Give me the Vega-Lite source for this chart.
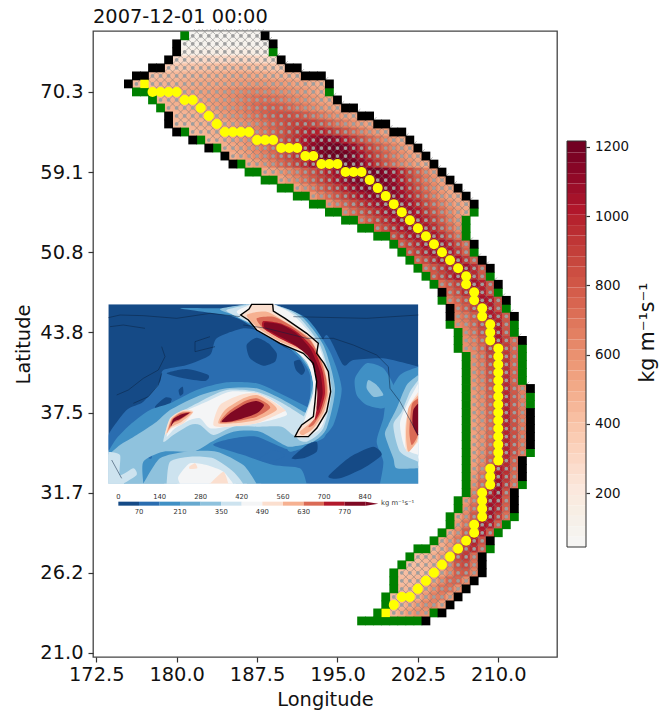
{"$schema":"https://vega.github.io/schema/vega-lite/v6.json","width":464,"height":626,"autosize":{"type":"none"},"padding":{"left":93,"top":31,"right":113,"bottom":53},"background":"white",
"title":{"text":"2007-12-01 00:00","anchor":"start","frame":"group","fontSize":19.4,"fontWeight":"normal","offset":0,"font":"DejaVu Sans","color":"#111"},
"config":{"view":{"stroke":"#444","strokeWidth":1.3},"axis":{"grid":false,"labelFont":"DejaVu Sans","titleFont":"DejaVu Sans","labelColor":"#111","titleColor":"#111","titleFontWeight":"normal","tickColor":"#333","tickWidth":1.2,"domain":false},"text":{"font":"DejaVu Sans"}},
"datasets":{
"cells":[
{"r":77,"c":[12,13,14,15,16,17,18,19,20],"v":[60,60,60,60,65,65,65,65,65]},
{"r":76,"c":[11,12,13,14,15,16,17,18,19,20,21],"v":[75,75,75,80,80,85,85,85,85,80,80]},
{"r":75,"c":[11,12,13,14,15,16,17,18,19,20,21],"v":[110,115,120,125,130,135,140,140,135,130,120]},
{"r":74,"c":[10,11,12,13,14,15,16,17,18,19,20,21,22],"v":[260,260,270,270,280,280,280,290,290,290,280,270,260]},
{"r":73,"c":[9,10,11,12,13,14,15,16,17,18,19,20,21,22,23],"v":[350,360,370,380,390,400,410,420,430,430,420,410,400,390,380]},
{"r":72,"c":[7,8,9,10,11,12,13,14,15,16,17,18,19,20,21,22,23,24,25],"v":[400,410,420,430,440,450,460,470,480,490,500,510,510,500,490,480,470,460,450]},
{"r":71,"c":[5,6,7,8,9,10,11,12,13,14,15,16,17,18,19,20,21,22,23,24,25,26,27,28],"v":[420,430,440,450,460,470,480,490,500,510,520,530,540,550,560,570,570,560,550,540,520,500,480,460]},
{"r":70,"c":[7,8,9,10,11,12,13,14,15,16,17,18,19,20,21,22,23,24,25,26,27,28],"v":[470,480,490,500,510,520,530,540,560,580,600,620,640,650,640,630,610,590,570,550,520,490]},
{"r":69,"c":[8,9,10,11,12,13,14,15,16,17,18,19,20,21,22,23,24,25,26,27,28,29],"v":[450,460,470,480,500,520,540,560,580,610,640,670,700,710,700,680,650,620,590,560,530,500]},
{"r":68,"c":[9,10,11,12,13,14,15,16,17,18,19,20,21,22,23,24,25,26,27,28,29,30],"v":[450,460,470,490,510,530,550,580,610,640,680,720,750,770,760,730,690,650,610,570,540,510]},
{"r":67,"c":[10,11,12,13,14,15,16,17,18,19,20,21,22,23,24,25,26,27,28,29,30,31,32],"v":[440,450,470,490,510,530,560,590,620,660,700,750,790,820,830,810,770,720,670,620,580,540,510]},
{"r":66,"c":[10,11,12,13,14,15,16,17,18,19,20,21,22,23,24,25,26,27,28,29,30,31,32,33,34],"v":[420,430,440,460,480,500,520,550,580,610,650,700,750,800,850,880,890,860,810,750,690,640,590,550,520]},
{"r":65,"c":[12,13,14,15,16,17,18,19,20,21,22,23,24,25,26,27,28,29,30,31,32,33,34,35,36],"v":[430,440,460,480,500,530,560,600,640,680,730,790,850,910,960,990,980,930,860,790,720,660,600,560,520]},
{"r":64,"c":[14,15,16,17,18,19,20,21,22,23,24,25,26,27,28,29,30,31,32,33,34,35,36,37,38],"v":[440,460,490,520,550,590,630,680,740,800,870,940,1010,1070,1110,1120,1080,1000,910,820,740,670,610,560,510]},
{"r":63,"c":[16,17,18,19,20,21,22,23,24,25,26,27,28,29,30,31,32,33,34,35,36,37,38,39],"v":[470,500,530,570,620,670,730,800,870,950,1030,1100,1150,1180,1190,1150,1070,970,870,780,700,630,570,520]},
{"r":62,"c":[17,18,19,20,21,22,23,24,25,26,27,28,29,30,31,32,33,34,35,36,37,38,39,40],"v":[470,510,550,600,650,710,780,850,930,1010,1090,1150,1190,1200,1190,1130,1040,940,840,750,670,600,550,500]},
{"r":61,"c":[19,20,21,22,23,24,25,26,27,28,29,30,31,32,33,34,35,36,37,38,39,40,41],"v":[500,540,590,650,720,790,870,950,1040,1120,1170,1200,1210,1180,1110,1010,910,810,720,640,580,530,490]},
{"r":60,"c":[21,22,23,24,25,26,27,28,29,30,31,32,33,34,35,36,37,38,39,40,41,42],"v":[500,530,570,620,680,750,820,900,980,1050,1110,1150,1170,1180,1170,1130,1060,960,850,740,640,560]},
{"r":59,"c":[23,24,25,26,27,28,29,30,31,32,33,34,35,36,37,38,39,40,41,42,43],"v":[520,570,630,700,780,860,940,1020,1080,1130,1160,1170,1170,1140,1080,990,880,770,670,590,530]},
{"r":58,"c":[25,26,27,28,29,30,31,32,33,34,35,36,37,38,39,40,41,42,43,44],"v":[540,600,670,750,830,910,990,1060,1110,1140,1150,1140,1100,1030,930,820,710,620,550,510]},
{"r":57,"c":[27,28,29,30,31,32,33,34,35,36,37,38,39,40,41,42,43,44,45],"v":[570,640,720,800,880,960,1030,1080,1110,1120,1100,1050,970,870,760,660,580,520,490]},
{"r":56,"c":[29,30,31,32,33,34,35,36,37,38,39,40,41,42,43,44,45,46],"v":[590,670,750,830,910,980,1040,1080,1100,1080,1030,950,850,750,660,580,520,490]},
{"r":55,"c":[31,32,33,34,35,36,37,38,39,40,41,42,43,44,45,46],"v":[640,720,800,880,950,1020,1060,1080,1060,1000,910,810,710,620,550,500]},
{"r":54,"c":[33,34,35,36,37,38,39,40,41,42,43,44,45],"v":[700,780,860,940,1000,1050,1070,1040,970,880,770,660,570]},
{"r":53,"c":[35,36,37,38,39,40,41,42,43,44,45],"v":[760,850,930,1000,1050,1060,1020,940,830,710,600]},
{"r":52,"c":[37,38,39,40,41,42,43,44,45],"v":[820,910,990,1040,1060,1020,930,810,680]},
{"r":51,"c":[38,39,40,41,42,43,44,45,46],"v":[780,870,960,1030,1060,1040,960,840,700]},
{"r":50,"c":[39,40,41,42,43,44,45,46],"v":[800,890,970,1040,1060,1010,900,750]},
{"r":49,"c":[40,41,42,43,44,45,46,47],"v":[760,850,940,1020,1060,1030,920,770]},
{"r":48,"c":[41,42,43,44,45,46,47,48],"v":[720,800,890,980,1050,1050,950,790]},
{"r":47,"c":[42,43,44,45,46,47,48],"v":[780,860,950,1030,1050,960,800]},
{"r":46,"c":[43,44,45,46,47,48,49],"v":[710,790,880,980,1040,980,820]},
{"r":45,"c":[44,45,46,47,48,49],"v":[740,830,950,1030,990,830]},
{"r":44,"c":[44,45,46,47,48,49,50],"v":[670,740,830,950,1030,1000,830]},
{"r":43,"c":[45,46,47,48,49,50],"v":[690,770,880,1000,1010,840]},
{"r":42,"c":[45,46,47,48,49,50,51],"v":[650,690,780,900,1010,960,780]},
{"r":41,"c":[45,46,47,48,49,50,51],"v":[620,660,740,860,1000,990,800]},
{"r":40,"c":[46,47,48,49,50,51],"v":[630,700,820,980,1000,810]},
{"r":39,"c":[46,47,48,49,50,51,52],"v":[600,650,760,940,1010,880,720]},
{"r":38,"c":[46,47,48,49,50,51,52],"v":[590,630,720,900,1010,900,730]},
{"r":37,"c":[47,48,49,50,51,52],"v":[600,680,860,1000,920,740]},
{"r":36,"c":[47,48,49,50,51,52],"v":[590,660,830,1000,930,740]},
{"r":35,"c":[47,48,49,50,51,52],"v":[580,650,810,990,940,750]},
{"r":34,"c":[47,48,49,50,51,52],"v":[570,640,790,980,950,750]},
{"r":33,"c":[47,48,49,50,51,52,53],"v":[560,620,770,970,960,780,650]},
{"r":32,"c":[47,48,49,50,51,52,53],"v":[550,610,750,950,970,790,660]},
{"r":31,"c":[47,48,49,50,51,52,53],"v":[540,600,740,940,970,800,660]},
{"r":30,"c":[47,48,49,50,51,52,53],"v":[540,590,730,930,980,810,670]},
{"r":29,"c":[47,48,49,50,51,52,53],"v":[530,590,720,920,980,820,670]},
{"r":28,"c":[47,48,49,50,51,52,53],"v":[530,580,710,910,980,820,680]},
{"r":27,"c":[47,48,49,50,51,52,53],"v":[520,580,710,910,980,830,680]},
{"r":26,"c":[47,48,49,50,51,52,53],"v":[520,580,720,920,980,830,680]},
{"r":25,"c":[47,48,49,50,51,52,53],"v":[520,590,730,930,980,820,670]},
{"r":24,"c":[47,48,49,50,51,52],"v":[530,610,760,960,960,760]},
{"r":23,"c":[47,48,49,50,51,52],"v":[540,640,800,1000,950,740]},
{"r":22,"c":[47,48,49,50,51,52],"v":[560,680,860,1030,930,720]},
{"r":21,"c":[47,48,49,50,51,52],"v":[590,720,920,1050,900,700]},
{"r":20,"c":[47,48,49,50,51],"v":[640,800,980,1050,820]},
{"r":19,"c":[46,47,48,49,50,51],"v":[560,680,860,1030,1000,780]},
{"r":18,"c":[46,47,48,49,50,51],"v":[590,720,920,1050,960,750]},
{"r":17,"c":[45,46,47,48,49,50,51],"v":[520,620,780,980,1040,900,700]},
{"r":16,"c":[45,46,47,48,49,50],"v":[570,680,860,1030,990,760]},
{"r":15,"c":[44,45,46,47,48,49],"v":[510,610,760,950,1000,800]},
{"r":14,"c":[43,44,45,46,47,48],"v":[480,550,660,840,980,820]},
{"r":13,"c":[42,43,44,45,46,47,48],"v":[430,480,560,690,880,950,760]},
{"r":12,"c":[40,41,42,43,44,45,46,47],"v":[410,430,470,540,660,840,900,720]},
{"r":11,"c":[39,40,41,42,43,44,45,46,47],"v":[400,410,430,470,530,640,800,840,690]},
{"r":10,"c":[38,39,40,41,42,43,44,45,46,47],"v":[400,410,420,430,470,530,620,760,780,640]},
{"r":9,"c":[38,39,40,41,42,43,44,45,46],"v":[410,420,440,470,530,610,720,730,610]},
{"r":8,"c":[38,39,40,41,42,43,44,45],"v":[430,440,470,520,590,680,690,590]},
{"r":7,"c":[37,38,39,40,41,42,43,44],"v":[420,430,450,490,560,640,650,560]},
{"r":6,"c":[37,38,39,40,41,42,43],"v":[430,450,490,550,620,630,540]},
{"r":5,"c":[36,37,38,39,40,41],"v":[430,440,480,540,590,580]}
],
"green":[{"r":77,"c":[11]},{"r":75,"c":[22]},{"r":70,"c":[5,6,29]},{"r":69,"c":[7]},{"r":68,"c":[8]},{"r":65,"c":[11]},{"r":64,"c":[13]},{"r":63,"c":[15]},{"r":61,"c":[18]},{"r":60,"c":[19,20]},{"r":59,"c":[21,22]},{"r":58,"c":[23,24]},{"r":57,"c":[25,26]},{"r":56,"c":[27,28]},{"r":55,"c":[29,30,47]},{"r":54,"c":[31,32,46]},{"r":53,"c":[33,34,46]},{"r":52,"c":[35,36,46]},{"r":51,"c":[37]},{"r":50,"c":[38,47]},{"r":49,"c":[39]},{"r":48,"c":[40]},{"r":47,"c":[41,49]},{"r":46,"c":[42]},{"r":45,"c":[50]},{"r":44,"c":[43]},{"r":43,"c":[51]},{"r":41,"c":[44,52]},{"r":40,"c":[45,52]},{"r":39,"c":[45]},{"r":38,"c":[45,53]},{"r":37,"c":[46,53]},{"r":36,"c":[46,53]},{"r":35,"c":[46,53]},{"r":34,"c":[46,53]},{"r":33,"c":[46]},{"r":32,"c":[46,54]},{"r":31,"c":[46,54]},{"r":30,"c":[46]},{"r":29,"c":[46]},{"r":28,"c":[46]},{"r":27,"c":[46]},{"r":26,"c":[46]},{"r":25,"c":[46,54]},{"r":24,"c":[46]},{"r":23,"c":[46]},{"r":22,"c":[46]},{"r":21,"c":[46,53]},{"r":20,"c":[46]},{"r":19,"c":[45]},{"r":18,"c":[45]},{"r":17,"c":[44,52]},{"r":16,"c":[44,51]},{"r":15,"c":[43,50]},{"r":14,"c":[42]},{"r":13,"c":[40,41,49]},{"r":12,"c":[39]},{"r":11,"c":[38]},{"r":10,"c":[37]},{"r":9,"c":[37]},{"r":8,"c":[37]},{"r":7,"c":[36]},{"r":6,"c":[36]},{"r":5,"c":[35,42]},{"r":4,"c":[33,34,35,36,37,38,39,40]}],
"black":[{"r":77,"c":[21]},{"r":76,"c":[10,22]},{"r":75,"c":[10]},{"r":74,"c":[9,23]},{"r":73,"c":[7,8,24,25]},{"r":72,"c":[5,6,26,27,28]},{"r":71,"c":[4,29]},{"r":69,"c":[30]},{"r":68,"c":[31,32]},{"r":67,"c":[9,33,34]},{"r":66,"c":[9,35,36]},{"r":65,"c":[10,37,38]},{"r":64,"c":[12,39]},{"r":63,"c":[14,40]},{"r":62,"c":[16,41]},{"r":61,"c":[17,42]},{"r":60,"c":[43]},{"r":59,"c":[44]},{"r":58,"c":[45]},{"r":57,"c":[46]},{"r":56,"c":[47]},{"r":51,"c":[47]},{"r":49,"c":[48]},{"r":48,"c":[49]},{"r":46,"c":[50]},{"r":45,"c":[43]},{"r":44,"c":[51]},{"r":43,"c":[44]},{"r":42,"c":[44,52]},{"r":39,"c":[53]},{"r":33,"c":[54]},{"r":30,"c":[54]},{"r":29,"c":[54]},{"r":28,"c":[54]},{"r":27,"c":[54]},{"r":26,"c":[54]},{"r":24,"c":[53]},{"r":23,"c":[53]},{"r":22,"c":[53]},{"r":20,"c":[52]},{"r":19,"c":[52]},{"r":18,"c":[52]},{"r":14,"c":[49]},{"r":12,"c":[48]},{"r":11,"c":[48]},{"r":10,"c":[48]},{"r":9,"c":[47]},{"r":8,"c":[46]},{"r":7,"c":[45]},{"r":6,"c":[44]},{"r":5,"c":[43]},{"r":4,"c":[41]}],
"axis":[{"r":71,"c":[6]},{"r":5,"c":[36]}],
"yellow":[{"r":70,"c":[7,8,9,10]},{"r":69,"c":[11,12]},{"r":68,"c":[13]},{"r":67,"c":[14]},{"r":66,"c":[15]},{"r":65,"c":[16,17,18,19]},{"r":64,"c":[20,21,22]},{"r":63,"c":[23,24,25]},{"r":62,"c":[26,27]},{"r":61,"c":[28,29,30]},{"r":60,"c":[31,32,33]},{"r":59,"c":[34]},{"r":58,"c":[35]},{"r":57,"c":[36]},{"r":56,"c":[37]},{"r":55,"c":[38]},{"r":54,"c":[39]},{"r":53,"c":[40]},{"r":52,"c":[41]},{"r":51,"c":[42]},{"r":50,"c":[43]},{"r":49,"c":[44]},{"r":48,"c":[45]},{"r":47,"c":[46]},{"r":46,"c":[46]},{"r":45,"c":[47]},{"r":44,"c":[47]},{"r":43,"c":[48]},{"r":42,"c":[48]},{"r":41,"c":[49]},{"r":40,"c":[49]},{"r":39,"c":[49]},{"r":38,"c":[50]},{"r":37,"c":[50]},{"r":36,"c":[50]},{"r":35,"c":[50]},{"r":34,"c":[50]},{"r":33,"c":[50]},{"r":32,"c":[50]},{"r":31,"c":[50]},{"r":30,"c":[50]},{"r":29,"c":[50]},{"r":28,"c":[50]},{"r":27,"c":[50]},{"r":26,"c":[50]},{"r":25,"c":[50]},{"r":24,"c":[50]},{"r":23,"c":[49]},{"r":22,"c":[49]},{"r":21,"c":[49]},{"r":20,"c":[48]},{"r":19,"c":[48]},{"r":18,"c":[48]},{"r":17,"c":[48]},{"r":16,"c":[47]},{"r":15,"c":[47]},{"r":14,"c":[46]},{"r":13,"c":[45]},{"r":12,"c":[44]},{"r":11,"c":[43]},{"r":10,"c":[42]},{"r":9,"c":[41]},{"r":8,"c":[40]},{"r":7,"c":[38,39]},{"r":6,"c":[37]}],
"bar":[{"v":44,"w":74},{"v":74,"w":104},{"v":104,"w":134},{"v":134,"w":164},{"v":164,"w":194},{"v":194,"w":224},{"v":224,"w":254},{"v":254,"w":284},{"v":284,"w":314},{"v":314,"w":344},{"v":344,"w":374},{"v":374,"w":404},{"v":404,"w":434},{"v":434,"w":464},{"v":464,"w":494},{"v":494,"w":524},{"v":524,"w":554},{"v":554,"w":584},{"v":584,"w":614},{"v":614,"w":644},{"v":644,"w":674},{"v":674,"w":704},{"v":704,"w":734},{"v":734,"w":764},{"v":764,"w":794},{"v":794,"w":824},{"v":824,"w":854},{"v":854,"w":884},{"v":884,"w":914},{"v":914,"w":944},{"v":944,"w":974},{"v":974,"w":1004},{"v":1004,"w":1034},{"v":1034,"w":1064},{"v":1064,"w":1094},{"v":1094,"w":1124},{"v":1124,"w":1154},{"v":1154,"w":1184},{"v":1184,"w":1217}],
"contours":[
{"id":"a1","lev":70,"p":[[25,420],[80,345],[130,320],[180,260],[190,225],[260,210],[330,180],[350,130],[430,100],[480,110],[560,160],[640,190],[680,120],[730,210],[760,195],[850,190],[955,215],[955,215],[955,330],[955,450],[955,530],[955,566],[955,566],[900,566],[700,566],[500,566],[300,566],[100,566],[25,566],[25,566],[25,530],[25,470]]},
{"id":"n1","lev":0,"p":[[440,150],[470,128],[505,145],[530,175],[525,200],[490,212],[450,190]]},
{"id":"n2","lev":0,"p":[[582,200],[600,195],[615,225],[605,240],[588,225]]},
{"id":"n3","lev":0,"p":[[200,235],[260,222],[325,240],[315,258],[250,250]]},
{"id":"n4","lev":0,"p":[[165,335],[195,308],[215,312],[205,335],[180,347]]},
{"id":"n5","lev":0,"p":[[236,285],[248,275],[250,295],[240,302]]},
{"id":"b1","lev":140,"p":[[25,470],[25,470],[50,430],[95,385],[150,345],[210,325],[290,285],[380,262],[470,265],[550,300],[620,335],[640,345],[680,390],[670,430],[600,455],[560,462],[470,425],[400,430],[340,450],[430,480],[520,510],[600,520],[620,566],[620,566],[450,566],[250,566],[80,566],[25,566],[25,566],[25,520]]},
{"id":"b2","lev":140,"p":[[955,215],[955,215],[900,240],[860,310],[850,370],[830,440],[850,500],[840,566],[840,566],[900,566],[955,566],[955,566],[955,480],[955,350]]},
{"id":"b3","lev":140,"p":[[765,250],[800,205],[850,220],[880,270],[880,310],[850,340],[800,330],[770,300]]},
{"id":"b4","lev":140,"p":[[430,28],[430,28],[520,28],[520,28],[620,70],[690,170],[725,280],[700,390],[650,440],[570,470],[560,430],[620,370],[630,240],[580,170],[480,110],[400,65],[240,40],[400,40]]},
{"id":"n6","lev":70,"p":[[255,430],[275,420],[292,432],[275,445]]},
{"id":"n7","lev":70,"p":[[145,470],[155,465],[155,490],[145,488]]},
{"id":"c1","lev":280,"p":[[25,480],[25,480],[60,450],[110,420],[170,380],[210,345],[290,305],[380,280],[470,280],[540,310],[610,350],[650,370],[660,410],[620,440],[565,455],[480,410],[400,410],[335,440],[280,470],[190,470],[130,500],[130,566],[130,566],[25,566],[25,566]]},
{"id":"c2","lev":280,"p":[[130,566],[130,566],[180,490],[260,470],[350,470],[430,510],[470,566],[470,566]]},
{"id":"c3","lev":280,"p":[[955,240],[955,240],[920,270],[890,340],[865,390],[855,420],[880,490],[890,520],[955,520],[955,520]]},
{"id":"c4","lev":280,"p":[[805,255],[830,270],[850,300],[820,305],[800,280]]},
{"id":"c5","lev":280,"p":[[440,28],[440,28],[520,28],[520,28],[600,60],[670,150],[705,280],[680,400],[640,440],[580,450],[610,380],[640,250],[580,160],[470,90],[400,60],[360,42]]},
{"id":"n8","lev":70,"p":[[480,490],[520,465],[555,480],[530,495],[490,500]]},
{"id":"n9","lev":0,"p":[[575,490],[620,450],[650,440],[650,470],[610,490]]},
{"id":"n10","lev":0,"p":[[685,545],[720,510],[760,480],[820,455],[845,480],[790,520],[720,550]]},
{"id":"d1","lev":350,"p":[[190,440],[215,370],[300,320],[380,285],[470,290],[540,320],[620,370],[640,395],[590,425],[545,395],[470,395],[400,395],[340,420],[300,390],[270,390],[220,420]]},
{"id":"d2","lev":350,"p":[[200,566],[200,566],[210,500],[270,485],[340,490],[400,530],[430,566],[430,566]]},
{"id":"d3","lev":350,"p":[[25,470],[25,470],[60,480],[60,540],[100,520],[110,540],[70,566],[70,566],[25,566],[25,566]]},
{"id":"d4","lev":350,"p":[[955,255],[955,255],[930,290],[905,350],[880,390],[900,470],[955,500],[955,500]]},
{"id":"d5","lev":350,"p":[[450,28],[450,28],[520,28],[520,28],[590,60],[660,150],[695,280],[670,400],[620,440],[590,420],[640,290],[620,200],[540,130],[450,85],[400,60],[380,45]]},
{"id":"e1","lev":420,"p":[[200,425],[225,365],[320,320],[390,290],[470,295],[530,325],[560,360],[470,385],[380,395],[330,400],[300,370],[270,375],[225,400]]},
{"id":"e2","lev":420,"p":[[235,545],[270,505],[320,510],[370,530],[400,566],[400,566],[240,566],[240,566]]},
{"id":"e3","lev":420,"p":[[955,265],[955,265],[925,320],[900,385],[915,460],[955,480],[955,480]]},
{"id":"e4","lev":420,"p":[[455,28],[455,28],[520,28],[520,28],[580,60],[655,150],[690,280],[665,395],[600,425],[640,290],[620,200],[530,125],[450,80],[410,50]]},
{"id":"f1","lev":490,"p":[[340,390],[360,330],[420,300],[470,295],[520,320],[555,345],[550,350],[470,385],[380,395]]},
{"id":"f2","lev":490,"p":[[195,420],[210,370],[250,345],[280,350],[250,385],[215,400]]},
{"id":"f3","lev":490,"p":[[268,515],[285,505],[292,520],[270,522]]},
{"id":"f4","lev":490,"p":[[330,566],[330,566],[370,530],[385,566],[385,566]]},
{"id":"f5","lev":490,"p":[[955,290],[955,290],[930,330],[915,400],[920,470],[955,440],[955,440]]},
{"id":"g1","lev":560,"p":[[355,385],[375,345],[430,310],[470,300],[510,320],[530,345],[470,375],[400,385]]},
{"id":"g2","lev":560,"p":[[200,415],[215,370],[245,350],[278,352],[245,380],[215,395]]},
{"id":"g3","lev":560,"p":[[955,300],[955,300],[925,340],[918,420],[925,470],[950,440],[955,420],[955,420]]},
{"id":"h1","lev":630,"p":[[360,382],[385,350],[435,318],[470,310],[500,325],[510,340],[470,365],[400,380]]},
{"id":"h2","lev":630,"p":[[205,405],[215,375],[240,355],[272,352],[240,375],[218,385]]},
{"id":"h3","lev":630,"p":[[955,310],[955,310],[935,330],[928,410],[935,450],[950,430],[955,410],[955,410]]},
{"id":"i1","lev":770,"p":[[365,380],[390,355],[440,325],[470,318],[492,330],[470,355],[400,378]]},
{"id":"i2","lev":770,"p":[[212,395],[220,372],[245,358],[268,354],[240,372],[222,380]]},
{"id":"i3","lev":770,"p":[[955,325],[955,325],[940,345],[938,390],[955,425],[955,425]]},
{"id":"j0","lev":490,"p":[[455,28],[447,42],[422,60],[445,75],[470,105],[540,145],[610,175],[640,205],[650,260],[645,320],[640,365],[605,390],[595,405],[585,425],[625,425],[650,400],[680,350],[692,290],[685,230],[672,205],[650,175],[655,145],[620,115],[555,70],[520,48],[518,28]]},
{"id":"j1","lev":560,"p":[[440,60],[500,50],[555,80],[625,125],[650,165],[672,215],[685,290],[672,350],[640,400],[610,420],[600,410],[645,370],[655,320],[655,260],[645,205],[615,170],[540,140],[475,100]]},
{"id":"j2","lev":630,"p":[[470,70],[520,65],[570,90],[630,135],[660,190],[678,250],[680,300],[665,350],[640,390],[625,395],[650,360],[660,300],[655,240],[640,195],[610,165],[540,130],[490,100]]},
{"id":"j3","lev":700,"p":[[490,78],[540,85],[590,110],[640,160],[668,230],[675,295],[660,350],[645,375],[650,340],[655,290],[650,230],[630,185],[590,155],[530,125],[490,100]]},
{"id":"j4","lev":770,"p":[[495,82],[540,88],[585,112],[630,160],[660,230],[668,295],[655,345],[650,340],[652,290],[645,230],[625,185],[585,150],[530,120],[495,100]]}
],
"coast":[
{"id":"k0","p":[[25,68],[60,60],[130,62],[230,70],[330,55],[420,65]]},
{"id":"k1","p":[[30,95],[70,90],[135,100]]},
{"id":"k2","p":[[185,155],[195,185],[175,225],[130,250],[85,285],[50,300]]},
{"id":"k3","p":[[185,235],[175,270],[145,305],[100,325]]},
{"id":"k4","p":[[430,90],[500,100],[620,130],[700,130],[760,150],[830,180],[865,215],[870,280],[900,320],[955,420]]},
{"id":"k5","p":[[580,65],[800,70],[955,60]]},
{"id":"k6","p":[[35,495],[65,550]]},
{"id":"k7","p":[[330,125],[285,140],[285,170],[345,155]]}
],
"arrow":[{"id":"arrow","lev":770,"p":[[797,620],[835,626],[797,632]]}],
"outline":[{"id":"o","p":[[455,28],[447,42],[422,60],[445,75],[470,105],[540,145],[610,175],[640,205],[650,260],[645,320],[640,365],[605,390],[595,405],[585,425],[625,425],[650,400],[680,350],[692,290],[685,230],[672,205],[650,175],[655,145],[620,115],[555,70],[520,48],[518,28]]}],
"boxes":[{"lev":0,"mx":25,"mx2":955,"my":28,"my2":566}],
"masks":[{"mx":0,"mx2":985,"my":566,"my2":600},{"mx":0,"mx2":25,"my":20,"my2":600},{"mx":955,"mx2":985,"my":20,"my2":600},{"mx":0,"mx2":985,"my":0,"my2":28}],
"ibar":[{"lev":0,"mx":55,"mx2":117,"my":620,"my2":632},{"lev":70,"mx":117,"mx2":179,"my":620,"my2":632},{"lev":140,"mx":179,"mx2":240,"my":620,"my2":632},{"lev":210,"mx":240,"mx2":302,"my":620,"my2":632},{"lev":280,"mx":302,"mx2":364,"my":620,"my2":632},{"lev":350,"mx":364,"mx2":425,"my":620,"my2":632},{"lev":420,"mx":425,"mx2":487,"my":620,"my2":632},{"lev":490,"mx":487,"mx2":549,"my":620,"my2":632},{"lev":560,"mx":549,"mx2":611,"my":620,"my2":632},{"lev":630,"mx":611,"mx2":672,"my":620,"my2":632},{"lev":700,"mx":672,"mx2":734,"my":620,"my2":632},{"lev":770,"mx":734,"mx2":797,"my":620,"my2":632}],
"ilabels":[{"mx":55,"my":606,"t":"0"},{"mx":179,"my":606,"t":"140"},{"mx":302,"my":606,"t":"280"},{"mx":425,"my":606,"t":"420"},{"mx":549,"my":606,"t":"560"},{"mx":672,"my":606,"t":"700"},{"mx":795,"my":606,"t":"840"},{"mx":117,"my":650,"t":"70"},{"mx":240,"my":650,"t":"210"},{"mx":364,"my":650,"t":"350"},{"mx":487,"my":650,"t":"490"},{"mx":611,"my":650,"t":"630"},{"mx":734,"my":650,"t":"770"},{"mx":893,"my":625,"t":"kg m⁻¹s⁻¹"}]
},
"layer":[
{"encoding":{"x":{"field":"c","type":"quantitative","scale":{"domain":[-0.4,57.3],"nice":false,"zero":false},"axis":{"values":[0,10,20,30,40,50],"labelExpr":"format(172.5+0.75*datum.value,'.1f')","labelFontSize":19.4,"tickSize":5,"labelPadding":3,"title":"Longitude","titleFontSize":19.4,"titlePadding":7}},
"y":{"field":"r","type":"quantitative","scale":{"domain":[-0.5,77.6],"nice":false,"zero":false},"axis":{"values":[0,10,20,30,40,50,60,70],"labelExpr":"['21.0','26.2','31.7','37.5','43.8','50.8','59.1','70.3'][datum.value/10]","labelFontSize":19.4,"tickSize":5,"labelPadding":5,"title":"Latitude","titleFontSize":19.4,"titlePadding":6}}},
"layer":[
{"data":{"name":"cells"},"transform":[{"flatten":["c","v"]}],"mark":{"type":"rect","width":8.8,"height":8.8},"encoding":{"color":{"field":"v","type":"quantitative","scale":{"domain":[44,200,360,530,750,1000,1217],"range":["#f6f5f3","#fbe7dc","#fac9af","#f0a07d","#d6604d","#b2182b","#67001f"]},"legend":null}}},
{"data":{"name":"cells"},"transform":[{"flatten":["c","v"]}],"mark":{"type":"point","shape":"M-1,-1L1,1M-1,1L1,-1","filled":false,"size":30,"stroke":"#7d7d7d","strokeWidth":0.7,"opacity":0.8,"xOffset":4,"yOffset":-4}},
{"data":{"name":"cells"},"transform":[{"flatten":["c","v"]}],"mark":{"type":"point","shape":"circle","filled":true,"size":14,"fill":"#9e9e9e","opacity":1}},
{"data":{"name":"green"},"transform":[{"flatten":["c"]}],"mark":{"type":"rect","width":8.8,"height":8.8,"fill":"#008000"}},
{"data":{"name":"black"},"transform":[{"flatten":["c"]}],"mark":{"type":"rect","width":8.8,"height":8.8,"fill":"#000000"}},
{"data":{"name":"axis"},"transform":[{"flatten":["c"]}],"mark":{"type":"rect","width":8.4,"height":8.4,"fill":"#ffff00"}},
{"data":{"name":"yellow"},"transform":[{"flatten":["c"]}],"mark":{"type":"point","shape":"circle","filled":true,"size":100,"fill":"#ffff00","opacity":1}}
]},
{"encoding":{"x":{"datum":0,"type":"quantitative","scale":{"domain":[0,1],"range":[474,493]},"axis":null},"x2":{"datum":1},
"y":{"field":"v","type":"quantitative","scale":{"domain":[44,1217],"range":[516,110],"nice":false,"zero":false},"axis":{"orient":"right","offset":29,"format":"d","values":[200,400,600,800,1000,1200],"labelFontSize":13.4,"tickSize":3.5,"labelPadding":5,"title":"kg m⁻¹s⁻¹","titleFontSize":20.5,"titleAngle":270,"titlePadding":29,"titleY":301}},"y2":{"field":"w"}},
"layer":[{"data":{"name":"bar"},"mark":{"type":"rect"},"encoding":{"color":{"field":"v","type":"quantitative","scale":{"domain":[44,200,360,530,750,1000,1217],"range":["#f6f5f3","#fbe7dc","#fac9af","#f0a07d","#d6604d","#b2182b","#67001f"]},"legend":null}}},
{"data":{"values":[{"v":44,"w":1217}]},"mark":{"type":"rect","fill":"transparent","stroke":"#333","strokeWidth":1}}]},
{"encoding":{"x":{"field":"mx","type":"quantitative","scale":{"domain":[0,990],"range":[7,337],"nice":false,"zero":false},"axis":null},
"y":{"field":"my","type":"quantitative","scale":{"domain":[0,660],"range":[264,484],"nice":false,"zero":false},"axis":null}},
"layer":[
{"data":{"name":"boxes"},"mark":{"type":"rect"},"encoding":{"x2":{"field":"mx2"},"y2":{"field":"my2"},"fill":{"field":"lev","type":"ordinal","scale":{"domain":[0,70,140,210,280,350,420,490,560,630,700,770],"range":["#154a86","#2a6db0","#4090c5","#67a9cf","#8fc2dd","#cde3ef","#f4f5f6","#fbdfcf","#f6b191","#da6a55","#b2182b","#7f0823"]},"legend":null}}},
{"data":{"name":"contours"},"transform":[{"flatten":["p"]},{"window":[{"op":"row_number","as":"i"}],"groupby":["id"]},{"calculate":"datum.p[0]","as":"mx"},{"calculate":"datum.p[1]","as":"my"}],"mark":{"type":"line","strokeWidth":0,"interpolate":"cardinal-closed","tension":0.3},"encoding":{"detail":{"field":"id"},"order":{"field":"i","type":"quantitative"},"fill":{"field":"lev","type":"ordinal","legend":null}}},
{"data":{"name":"masks"},"mark":{"type":"rect","fill":"white"},"encoding":{"x2":{"field":"mx2"},"y2":{"field":"my2"}}},
{"data":{"name":"arrow"},"transform":[{"flatten":["p"]},{"window":[{"op":"row_number","as":"i"}],"groupby":["id"]},{"calculate":"datum.p[0]","as":"mx"},{"calculate":"datum.p[1]","as":"my"}],"mark":{"type":"line","strokeWidth":0,"interpolate":"linear-closed"},"encoding":{"detail":{"field":"id"},"order":{"field":"i","type":"quantitative"},"fill":{"field":"lev","type":"ordinal","legend":null}}},
{"data":{"name":"coast"},"transform":[{"flatten":["p"]},{"window":[{"op":"row_number","as":"i"}],"groupby":["id"]},{"calculate":"datum.p[0]","as":"mx"},{"calculate":"datum.p[1]","as":"my"}],"mark":{"type":"line","stroke":"#0b2340","strokeWidth":0.5},"encoding":{"detail":{"field":"id"},"order":{"field":"i","type":"quantitative"}}},
{"data":{"name":"outline"},"transform":[{"flatten":["p"]},{"window":[{"op":"row_number","as":"i"}],"groupby":["id"]},{"calculate":"datum.p[0]","as":"mx"},{"calculate":"datum.p[1]","as":"my"}],"mark":{"type":"line","stroke":"#000000","strokeWidth":1.4,"interpolate":"linear-closed"},"encoding":{"detail":{"field":"id"},"order":{"field":"i","type":"quantitative"}}},
{"data":{"name":"ibar"},"mark":{"type":"rect"},"encoding":{"x2":{"field":"mx2"},"y2":{"field":"my2"},"fill":{"field":"lev","type":"ordinal","legend":null}}},
{"data":{"name":"ilabels"},"mark":{"type":"text","fontSize":6.8,"fill":"#333","align":"center","baseline":"middle"},"encoding":{"text":{"field":"t"}}}
]}
],
"resolve":{"scale":{"x":"independent","y":"independent","color":"independent","fill":"independent"},"axis":{"x":"independent","y":"independent"}}
}
